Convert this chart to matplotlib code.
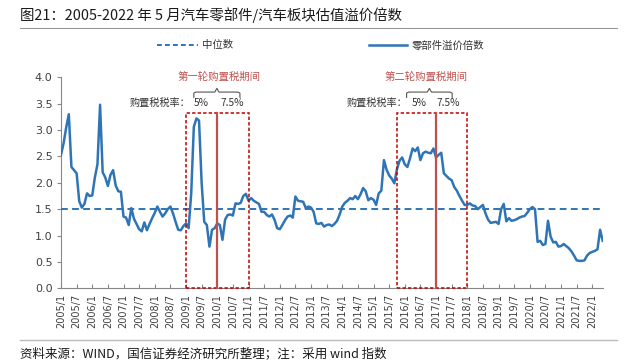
import matplotlib
matplotlib.use('Agg')

import numpy as np
import matplotlib.pyplot as plt
from matplotlib.lines import Line2D
from matplotlib.patches import Rectangle

plt.rcParams['font.family'] = ['Noto Sans CJK SC', 'DejaVu Sans']
plt.rcParams['axes.unicode_minus'] = False

# ===================== 数据 =====================
START_YEAR = 2005

# 零部件/汽车板块估值溢价倍数（月度，2005/1 - 2022/5）
PREMIUM = [
    2.53, 2.75, 3.05, 3.30, 2.30, 2.24, 2.18, 1.65, 1.53, 1.60, 1.80, 1.75,   # 2005
    1.76, 2.10, 2.35, 3.48, 2.20, 2.10, 1.94, 2.15, 2.24, 1.95, 1.84, 1.83,   # 2006
    1.36, 1.34, 1.20, 1.52, 1.32, 1.22, 1.12, 1.08, 1.25, 1.10, 1.22, 1.33,   # 2007
    1.43, 1.55, 1.45, 1.36, 1.42, 1.50, 1.55, 1.42, 1.26, 1.11, 1.10, 1.18,   # 2008
    1.23, 1.14, 1.80, 3.06, 3.22, 3.18, 2.00, 1.26, 1.20, 0.79, 1.11, 1.14,   # 2009
    1.23, 1.20, 0.92, 1.30, 1.39, 1.40, 1.38, 1.61, 1.60, 1.62, 1.75, 1.79,   # 2010
    1.66, 1.71, 1.66, 1.63, 1.60, 1.45, 1.45, 1.39, 1.36, 1.40, 1.30, 1.14,   # 2011
    1.12, 1.20, 1.29, 1.36, 1.38, 1.34, 1.74, 1.66, 1.65, 1.64, 1.52, 1.55,   # 2012
    1.53, 1.45, 1.23, 1.22, 1.24, 1.17, 1.20, 1.21, 1.18, 1.22, 1.28, 1.40,   # 2013
    1.55, 1.62, 1.66, 1.71, 1.69, 1.75, 1.69, 1.78, 1.90, 1.84, 1.67, 1.71,   # 2014
    1.68, 1.58, 1.80, 1.85, 2.43, 2.25, 2.14, 2.08, 1.99, 2.26, 2.42, 2.48,   # 2015
    2.35, 2.30, 2.46, 2.65, 2.60, 2.67, 2.43, 2.56, 2.59, 2.57, 2.56, 2.65,   # 2016
    2.48, 2.53, 2.57, 2.18, 2.13, 2.08, 2.05, 1.92, 1.85, 1.75, 1.66, 1.58,   # 2017
    1.58, 1.61, 1.57, 1.56, 1.50, 1.54, 1.58, 1.42, 1.30, 1.24, 1.25, 1.26,   # 2018
    1.22, 1.50, 1.60, 1.27, 1.33, 1.28, 1.29, 1.31, 1.34, 1.36, 1.37, 1.43,   # 2019
    1.50, 1.54, 1.50, 0.88, 0.90, 0.82, 0.84, 1.28, 0.98, 0.87, 0.88, 0.79,   # 2020
    0.80, 0.84, 0.80, 0.76, 0.70, 0.62, 0.53, 0.52, 0.52, 0.53, 0.62, 0.67,   # 2021
    0.69, 0.71, 0.74, 1.11, 0.90,                                             # 2022
]
MEDIAN = 1.50

TICK_LABELS = [
    '2005/1', '2005/7', '2006/1', '2006/7', '2007/1', '2007/7', '2008/1', '2008/7',
    '2009/1', '2009/7', '2010/1', '2010/7', '2011/1', '2011/7', '2012/1', '2012/7',
    '2013/1', '2013/7', '2014/1', '2014/7', '2015/1', '2015/7', '2016/1', '2016/7',
    '2017/1', '2017/7', '2018/1', '2018/7', '2019/1', '2019/7', '2020/1', '2020/7',
    '2021/1', '2021/7', '2022/1',
]

# 购置税优惠期间：起点 / 税率切换 / 终点
ROUND_NAMES = ['第一轮购置税期间', '第二轮购置税期间']
ROUND_START = ['2009/1', '2015/10']
ROUND_SWITCH = ['2010/1', '2017/1']
ROUND_END = ['2011/1', '2018/1']
RATE_LABELS = ['5%', '7.5%']

BLUE = '#2F75B5'
RED = '#C00000'
RED2 = '#C0504D'


def month_idx(s):
    y, m = s.split('/')
    return (int(y) - START_YEAR) * 12 + int(m) - 1


W, H = 629, 364


def fx(px):
    return px / W


def fy(py):
    return 1 - py / H


fig = plt.figure(figsize=(W / 100, H / 100), dpi=100)
fig.patch.set_facecolor('white')

# ── 主图 ──
ax = fig.add_axes([fx(61), fy(288.3), fx(602.7) - fx(61), fy(77.3) - fy(288.3)])
x = np.arange(len(PREMIUM))
ax.plot(x, PREMIUM, color=BLUE, lw=1.8, solid_joinstyle='round', zorder=4)
ax.axhline(MEDIAN, color=BLUE, lw=1.4, ls=(0, (3.5, 2.2)), zorder=3)

ax.set_xlim(0, len(PREMIUM) - 1)
ax.set_ylim(0, 4)
ax.set_yticks(np.arange(0, 4.01, 0.5))
ax.set_yticklabels([f'{v:.1f}' for v in np.arange(0, 4.01, 0.5)],
                   fontsize=8, color='#404040', family='DejaVu Sans')
ax.set_xticks([month_idx(t) for t in TICK_LABELS])
ax.set_xticklabels(TICK_LABELS, rotation=90, fontsize=7, color='#404040',
                   family='DejaVu Sans')
ax.tick_params(axis='y', direction='out', length=3, color='#888888', pad=3)
ax.tick_params(axis='x', direction='in', length=3, color='#888888', pad=4)
for s in ['top', 'right']:
    ax.spines[s].set_visible(False)
for s in ['left', 'bottom']:
    ax.spines[s].set_color('#888888')
    ax.spines[s].set_linewidth(0.8)

# ── 购置税期间标注 ──
BOX_TOP = 3.33
rate_pos = [  # 购置税税率文字右端, 5% 中心, 7.5% 中心, 括号左右
    (49.5, 54.0, 65.6, 51.0, 68.7),
    (133.2, 137.4, 148.6, 132.7, 150.2),
]
for i, name in enumerate(ROUND_NAMES):
    x0, xs, x1 = month_idx(ROUND_START[i]), month_idx(ROUND_SWITCH[i]), month_idx(ROUND_END[i])
    ax.add_patch(Rectangle((x0, 0), x1 - x0, BOX_TOP, fill=False, ec=RED,
                           ls=(0, (2.2, 1.4)), lw=1.1, clip_on=False, zorder=5))
    ax.plot([xs, xs], [0, BOX_TOP], color=RED2, lw=1.6, zorder=5, clip_on=False)

    lx, p5, p75, b0, b1 = rate_pos[i]
    bc = (b0 + b1) / 2
    ax.text(bc + (1 if i == 0 else -1.2), 4.01, name, ha='center', va='center',
            fontsize=7.5, color=RED2)
    ax.plot([b0, b0, b0 + 0.8, bc - 0.8, bc, bc + 0.8, b1 - 0.8, b1, b1],
            [3.62, 3.70, 3.72, 3.72, 3.79, 3.72, 3.72, 3.70, 3.62],
            color='#555555', lw=0.8, clip_on=False)
    ax.text(lx, 3.51, '购置税税率：', ha='right', va='center', fontsize=7.3, color='#333333')
    ax.text(p5, 3.51, RATE_LABELS[0], ha='center', va='center', fontsize=7.3,
            color='#333333')
    ax.text(p75, 3.51, RATE_LABELS[1], ha='center', va='center', fontsize=7.3,
            color='#333333')

# ── 图例 ──
fig.add_artist(Line2D([fx(157), fx(198)], [fy(45), fy(45)], color=BLUE, lw=1.4,
                      ls=(0, (2.5, 1.6))))
fig.text(fx(202), fy(45), '中位数', va='center', fontsize=7.5, color='#333333')
fig.add_artist(Line2D([fx(369), fx(407)], [fy(45), fy(45)], color=BLUE, lw=1.8))
fig.text(fx(412), fy(45), '零部件溢价倍数', va='center', fontsize=7.5, color='#333333')

# ── 标题 & 来源 ──
fig.text(fx(20), fy(15), '图21：2005-2022 年 5 月汽车零部件/汽车板块估值溢价倍数',
         va='center', fontsize=10.4, color='#1a1a1a')
fig.add_artist(Line2D([fx(20), fx(617)], [fy(28), fy(28)], color='#999999', lw=0.8))
fig.add_artist(Line2D([fx(20), fx(617)], [fy(340), fy(340)], color='#BBBBBB', lw=1.0))
fig.text(fx(20), fy(354), '资料来源：WIND，国信证券经济研究所整理；注：采用 wind 指数',
         va='center', fontsize=9, color='#1a1a1a')

fig.savefig('out.png', dpi=100, facecolor='white')
